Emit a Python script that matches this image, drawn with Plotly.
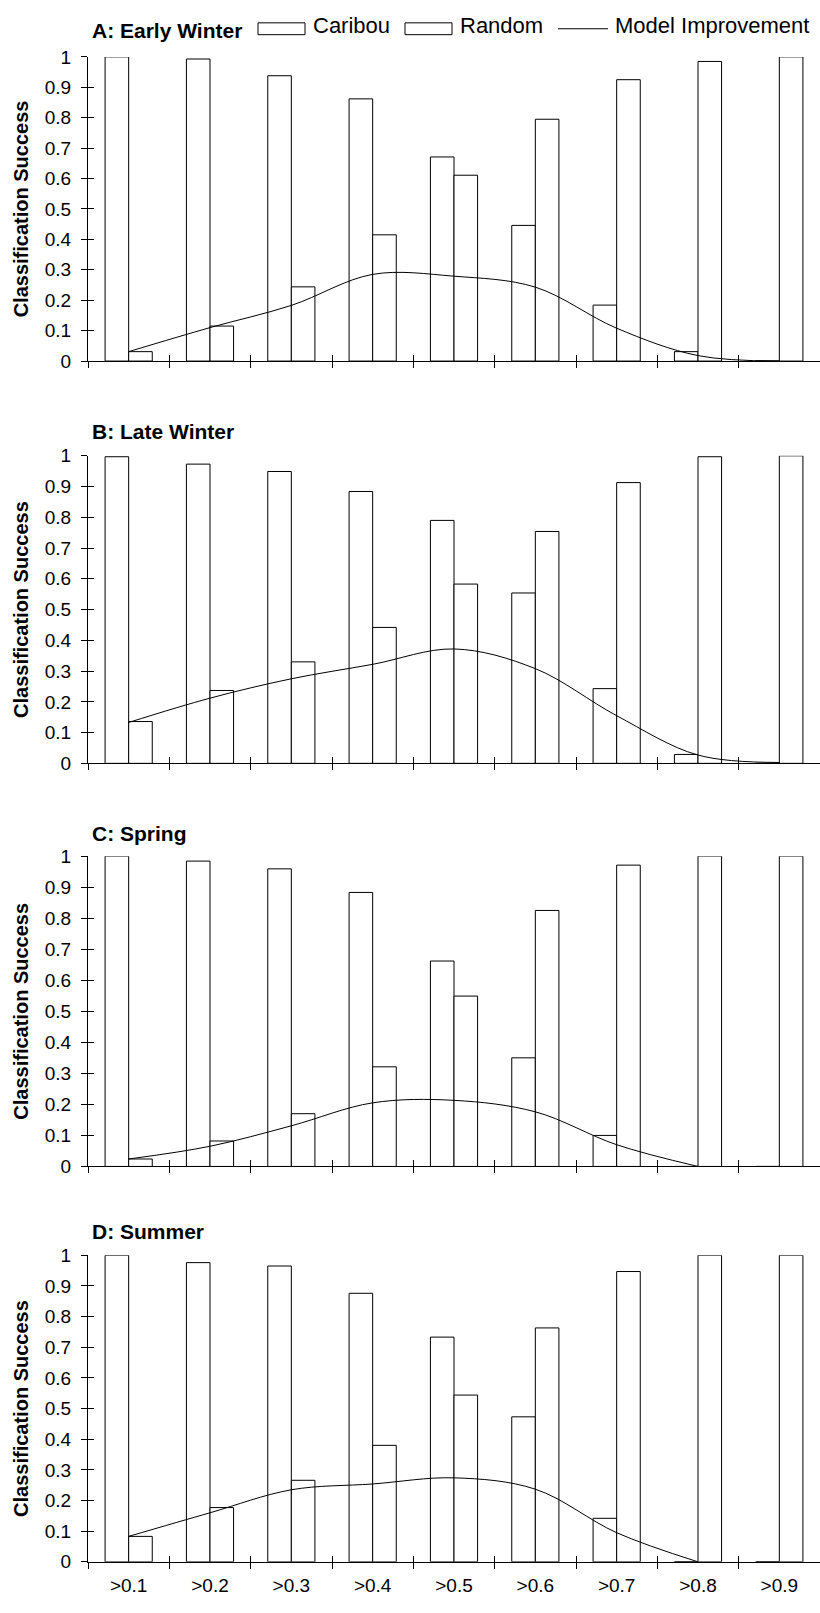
import plotly.graph_objects as go

W, H = 820, 1613

categories = [">0.1", ">0.2", ">0.3", ">0.4", ">0.5", ">0.6", ">0.7", ">0.8", ">0.9"]
y_tick_vals = [0, 0.1, 0.2, 0.3, 0.4, 0.5, 0.6, 0.7, 0.8, 0.9, 1.0]
y_tick_text = ["0", "0.1", "0.2", "0.3", "0.4", "0.5", "0.6", "0.7", "0.8", "0.9", "1"]
panel_titles = ["A: Early Winter", "B: Late Winter", "C: Spring", "D: Summer"]
series_names = ["Caribou", "Random", "Model Improvement"]
y_title = "Classification Success"

caribou_a = [1.0, 0.993, 0.938, 0.862, 0.671, 0.446, 0.184, 0.031, 0.0]
random_a = [0.031, 0.115, 0.244, 0.415, 0.611, 0.795, 0.925, 0.985, 1.0]
improve_a = [0.031, 0.110, 0.183, 0.285, 0.279, 0.243, 0.108, 0.018, 0.0]

caribou_b = [0.997, 0.973, 0.949, 0.884, 0.790, 0.554, 0.243, 0.029, 0.0]
random_b = [0.136, 0.237, 0.330, 0.442, 0.583, 0.754, 0.913, 0.997, 1.0]
improve_b = [0.133, 0.212, 0.275, 0.322, 0.372, 0.308, 0.155, 0.027, 0.003]

caribou_c = [1.0, 0.984, 0.959, 0.883, 0.662, 0.350, 0.100, 0.0, 0.0]
random_c = [0.024, 0.082, 0.170, 0.321, 0.549, 0.825, 0.971, 1.0, 1.0]
improve_c = [0.024, 0.065, 0.131, 0.205, 0.213, 0.176, 0.070, 0.0, None]

caribou_d = [1.0, 0.976, 0.965, 0.876, 0.733, 0.473, 0.142, 0.0, 0.0]
random_d = [0.083, 0.177, 0.266, 0.380, 0.544, 0.763, 0.947, 1.0, 1.0]
improve_d = [0.083, 0.160, 0.235, 0.254, 0.274, 0.237, 0.095, 0.0, None]

caribou_all = [caribou_a, caribou_b, caribou_c, caribou_d]
random_all = [random_a, random_b, random_c, random_d]
improve_all = [improve_a, improve_b, improve_c, improve_d]

# panel plot-area extents in pixels from top (top = y 1, bottom = y 0)
panel_top_px = [47.5, 451.7, 857.3, 1261.7]
panel_bot_px = [355.7, 763.3, 1171.7, 1572.3]
title_y_px = [21, 427.5, 834, 1237.5]

FONT = "Liberation Sans, Arial, sans-serif"
x_left_px = 88

fig = go.Figure()
layout = dict(
    width=W, height=H,
    margin=dict(l=0, r=0, t=0, b=0),
    paper_bgcolor="white", plot_bgcolor="white",
    barmode="group", bargap=0.42, bargroupgap=0,
    showlegend=False,
    font=dict(family=FONT, color="black", size=19),
)

annotations = []
shapes = []

for i in range(4):
    n = i + 1
    ov = i + 5
    xs = "" if n == 1 else str(n)
    ys = xs
    fig.add_trace(go.Bar(
        x=categories, y=caribou_all[i], name=series_names[0],
        marker=dict(color="white", line=dict(color="black", width=1)),
        xaxis="x" + xs, yaxis="y" + ys, offsetgroup="c",
    ))
    fig.add_trace(go.Bar(
        x=categories, y=random_all[i], name=series_names[1],
        marker=dict(color="white", line=dict(color="black", width=1)),
        xaxis="x" + xs, yaxis="y" + ys, offsetgroup="r",
    ))
    fig.add_trace(go.Scatter(
        x=categories, y=improve_all[i], name=series_names[2], mode="lines",
        line=dict(color="black", width=1, shape="spline", smoothing=1),
        xaxis="x%d" % ov, yaxis="y%d" % ov, connectgaps=False,
    ))

    dom_y = [1 - panel_bot_px[i] / H, 1 - panel_top_px[i] / H]
    common_x = dict(
        range=[-0.5, 8.5], type="category", categoryorder="array",
        categoryarray=categories, tickson="boundaries", ticklen=6,
        tickwidth=1, tickcolor="black", showgrid=False, zeroline=False,
        fixedrange=True,
    )
    layout["xaxis" + xs] = dict(
        common_x, domain=[x_left_px / W, 1], anchor="y" + ys,
        ticks="outside", showline=True, linecolor="black", linewidth=1,
        showticklabels=(i == 3), tickfont=dict(size=19, family=FONT),
        ticklabelstandoff=6,
    )
    layout["xaxis%d" % ov] = dict(
        common_x, overlaying="x" + xs, anchor="y%d" % ov, ticks="inside",
        showline=False, showticklabels=False,
    )
    common_y = dict(
        range=[0, 1], tickmode="array", tickvals=y_tick_vals, ticklen=6,
        tickwidth=1, tickcolor="black", showgrid=False, zeroline=False,
        fixedrange=True,
    )
    layout["yaxis" + ys] = dict(
        common_y, domain=dom_y, anchor="x" + xs, ticks="outside",
        ticktext=y_tick_text, showline=True, linecolor="black", linewidth=1,
        tickfont=dict(size=19, family=FONT), ticklabelstandoff=6,
        title=dict(text=y_title, font=dict(size=20, family=FONT, weight="bold"),
                   standoff=10),
    )
    layout["yaxis%d" % ov] = dict(
        common_y, overlaying="y" + ys, anchor="x%d" % ov, ticks="inside",
        showline=False, showticklabels=False,
    )
    annotations.append(dict(
        text=panel_titles[i], x=90 / W, y=1 - title_y_px[i] / H,
        xref="paper", yref="paper", xanchor="left", yanchor="middle",
        showarrow=False, font=dict(size=21, family=FONT, weight="bold"),
    ))

# custom legend (wide boxes as in the reference)
leg_y = 1 - 19 / H
box_h = 12 / H
for (x0, x1) in [(258, 305), (405, 452)]:
    shapes.append(dict(type="rect", xref="paper", yref="paper",
                       x0=x0 / W, x1=x1 / W, y0=leg_y - box_h / 2, y1=leg_y + box_h / 2,
                       line=dict(color="black", width=1), fillcolor="white"))
shapes.append(dict(type="line", xref="paper", yref="paper",
                   x0=558 / W, x1=608 / W, y0=leg_y, y1=leg_y,
                   line=dict(color="black", width=1)))
for name, xl in zip(series_names, [311, 458, 613]):
    annotations.append(dict(
        text=name, x=xl / W, y=1 - 16 / H, xref="paper", yref="paper",
        xanchor="left", yanchor="middle", showarrow=False,
        font=dict(size=22, family=FONT),
    ))

layout["annotations"] = annotations
layout["shapes"] = shapes
fig.update_layout(**layout)
fig.write_html(
    "out.html",
    config={"displayModeBar": False},
    post_script="document.body.style.margin='0';document.body.style.padding='0';",
)
